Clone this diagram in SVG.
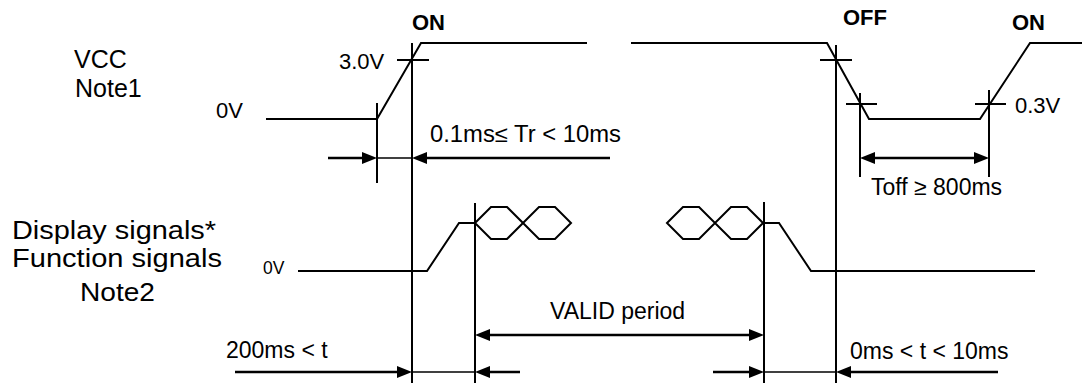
<svg xmlns="http://www.w3.org/2000/svg" width="1082" height="386" viewBox="0 0 1082 386">
<style>
.w{fill:none;stroke:#000;stroke-width:2;stroke-linejoin:miter}
.v{stroke:#000;stroke-width:2;fill:none}
.t{stroke:#000;stroke-width:1.3;fill:none}
.a{stroke:#000;stroke-width:2.7;fill:none}
.txt{font-family:"Liberation Sans",Arial,sans-serif;fill:#000}
.s{font-size:22px}
.m{font-size:23px}
.l{font-size:25px}
.b{font-size:22px;font-weight:bold}
.sm{font-size:17.5px}
</style>
<defs>
<marker id="ah" viewBox="0 0 15 12" refX="5" refY="6" markerWidth="15" markerHeight="12" markerUnits="userSpaceOnUse" orient="auto-start-reverse">
<path d="M0,0 L15,6 L0,12 Z" fill="#000"/>
</marker>
</defs>
<rect width="1082" height="386" fill="#fff"/>
<g id="labels" class="txt">
<text class="l" x="74" y="68">VCC</text>
<text class="l" x="75" y="97">Note1</text>
<text class="l" x="12" y="239" textLength="204" lengthAdjust="spacingAndGlyphs">Display signals*</text>
<text class="l" x="12" y="267" textLength="210" lengthAdjust="spacingAndGlyphs">Function signals</text>
<text class="l" x="80" y="301" textLength="75" lengthAdjust="spacingAndGlyphs">Note2</text>
<text class="b" x="412" y="30">ON</text>
<text class="b" x="843" y="25">OFF</text>
<text class="b" x="1012" y="30">ON</text>
<text class="s" x="339" y="69">3.0V</text>
<text class="s" x="216" y="118">0V</text>
<text class="s" x="1015" y="113">0.3V</text>
<text class="sm" x="263" y="274">0V</text>
<text class="m" x="430" y="142" textLength="191" lengthAdjust="spacingAndGlyphs">0.1ms≤ Tr &lt; 10ms</text>
<text class="m" x="871" y="195">Toff ≥ 800ms</text>
<text class="m" x="550" y="319">VALID period</text>
<text class="m" x="226" y="358">200ms &lt; t</text>
<text class="m" x="850" y="359">0ms &lt; t &lt; 10ms</text>
</g>
<g id="vcc-waveform">
<polyline class="w" points="266,119 377,119 421,43 587,43"/>
<polyline class="w" points="631,43 827,43 869,119 980,119 1030,43 1082,43"/>
<line class="v" x1="397" y1="60" x2="429" y2="60"/>
<line class="v" x1="820" y1="60" x2="852" y2="60"/>
<line class="v" x1="846" y1="104" x2="877" y2="104"/>
<line class="v" x1="975" y1="104" x2="1006" y2="104"/>
</g>
<g id="signal-waveform">
<polyline class="w" points="298,271 427,271 459,223 475,223"/>
<path class="w" d="M475,223 L491,207 L507,207 L539,239 L555,239 L571,223 L555,207 L539,207 L507,239 L491,239 Z"/>
<path class="w" d="M667,223 L683,207 L699,207 L731,239 L747,239 L763,223 L747,207 L731,207 L699,239 L683,239 Z"/>
<polyline class="w" points="763,223 779,223 811,271 1035,271"/>
</g>
<g id="guides">
<line class="v" x1="377" y1="103" x2="377" y2="183"/>
<line class="v" x1="412" y1="43" x2="412" y2="383"/>
<line class="v" x1="836" y1="45" x2="836" y2="383"/>
<line class="v" x1="860" y1="93" x2="860" y2="177"/>
<line class="v" x1="989" y1="90" x2="989" y2="177"/>
<line class="v" x1="475" y1="203" x2="475" y2="383"/>
<line class="v" x1="764" y1="202" x2="764" y2="383"/>
</g>
<g id="connectors">
<line class="a" x1="328" y1="158" x2="367" y2="158" marker-end="url(#ah)"/>
<line class="t" x1="377" y1="158" x2="412" y2="158"/>
<line class="a" x1="610" y1="158" x2="422" y2="158" marker-end="url(#ah)"/>
<line class="a" x1="870" y1="158" x2="979" y2="158" marker-start="url(#ah)" marker-end="url(#ah)"/>
<line class="a" x1="485" y1="335" x2="754" y2="335" marker-start="url(#ah)" marker-end="url(#ah)"/>
<line class="a" x1="235" y1="372" x2="402" y2="372" marker-end="url(#ah)"/>
<line class="t" x1="412" y1="372" x2="475" y2="372"/>
<line class="a" x1="520" y1="372" x2="485" y2="372" marker-end="url(#ah)"/>
<line class="a" x1="713" y1="372" x2="754" y2="372" marker-end="url(#ah)"/>
<line class="t" x1="764" y1="372" x2="836" y2="372"/>
<line class="a" x1="998" y1="372" x2="846" y2="372" marker-end="url(#ah)"/>
</g>
</svg>
